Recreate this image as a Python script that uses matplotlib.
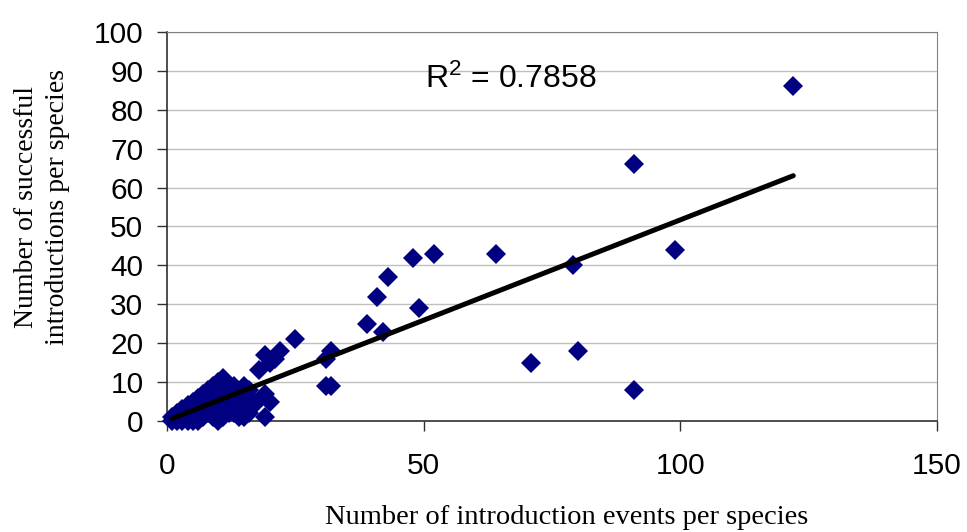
import numpy as np
import matplotlib
matplotlib.use("Agg")
import matplotlib.pyplot as plt

plt.rcParams['mathtext.fontset'] = 'custom'
plt.rcParams['mathtext.rm'] = 'Liberation Sans'
plt.rcParams['mathtext.default'] = 'regular'

# --- dados ---
eventos = [1, 1, 2, 2, 2, 3, 3, 3, 3, 4, 4, 4, 4, 4, 5, 5, 5, 5, 5, 5,
           6, 6, 6, 6, 6, 6, 7, 7, 7, 7, 7, 8, 8, 8, 8, 8, 9, 9, 9, 9, 9,
           10, 10, 10, 10, 10, 11, 11, 11, 11, 12, 12, 12, 12, 13, 13, 13,
           14, 14, 14, 15, 15, 15, 16, 16, 17, 17, 18, 19, 19, 19, 20, 20,
           21, 22, 25, 31, 31, 32, 32, 39, 41, 42, 43, 48, 49, 52, 64, 71,
           79, 80, 91, 91, 99, 122]
sucessos = [0, 1, 0, 1, 2, 0, 1, 2, 3, 0, 1, 2, 3, 4, 0, 1, 2, 3, 4, 5,
            0, 2, 3, 4, 5, 6, 1, 3, 5, 6, 7, 2, 4, 6, 7, 8, 1, 3, 5, 8, 9,
            0, 3, 6, 8, 10, 1, 5, 9, 11, 2, 4, 7, 8, 2, 6, 9,
            1, 3, 7, 1, 5, 9, 2, 8, 5, 4, 13, 1, 7, 17, 5, 15,
            16, 18, 21, 16, 9, 9, 18, 25, 32, 23, 37, 42, 29, 43, 43, 15,
            40, 18, 66, 8, 44, 86]
r2_texto = r'R$^{2}$ = 0.7858'

x = np.array(eventos, dtype=float)
y = np.array(sucessos, dtype=float)

# linha de tendência linear (como no Excel)
coef = np.polyfit(x, y, 1)
xl = np.array([x.min(), x.max()])
yl = np.polyval(coef, xl)

fig = plt.figure(figsize=(9.67, 5.32), dpi=100)
ax = fig.add_axes([0.1727, 0.2086, 0.7963, 0.7314])

ax.plot(x, y, 'D', color='#000080', markersize=10.5, markeredgewidth=0,
        clip_on=False, zorder=3)
ax.plot(xl, yl, color='black', linewidth=3.6, solid_capstyle='round', zorder=4)

ax.set_xlim(0, 150)
ax.set_ylim(0, 100)
ax.set_xticks([0, 50, 100, 150])
ax.set_yticks(np.arange(0, 101, 10))
ax.yaxis.grid(True, color='#c0c0c0', linewidth=1)
ax.set_axisbelow(True)

for lado in ['top', 'right']:
    ax.spines[lado].set_color('#808080')
for lado in ['left', 'bottom']:
    ax.spines[lado].set_color('#303030')
    ax.spines[lado].set_linewidth(1.2)

ax.tick_params(axis='both', direction='out', length=7, width=1, color='#303030',
               labelsize=21.5)
ax.tick_params(axis='x', pad=15)
ax.tick_params(axis='y', pad=10)
for lbl in ax.get_xticklabels() + ax.get_yticklabels():
    lbl.set_fontfamily('Liberation Sans')

ax.text(50.3, 85.6, r2_texto, fontsize=23, family='Liberation Sans',
        va='baseline', ha='left')

fig.text(567 / 967, 1 - 517 / 532, 'Number of introduction events per species',
         family='Liberation Serif', fontsize=20.5, ha='center', va='center')
fig.text(42 / 967, 1 - 207 / 532, 'Number of successful\nintroductions per species',
         family='Liberation Serif', fontsize=20, ha='center', va='center',
         rotation=90, linespacing=1.3)

fig.savefig('out.png', dpi=100)
